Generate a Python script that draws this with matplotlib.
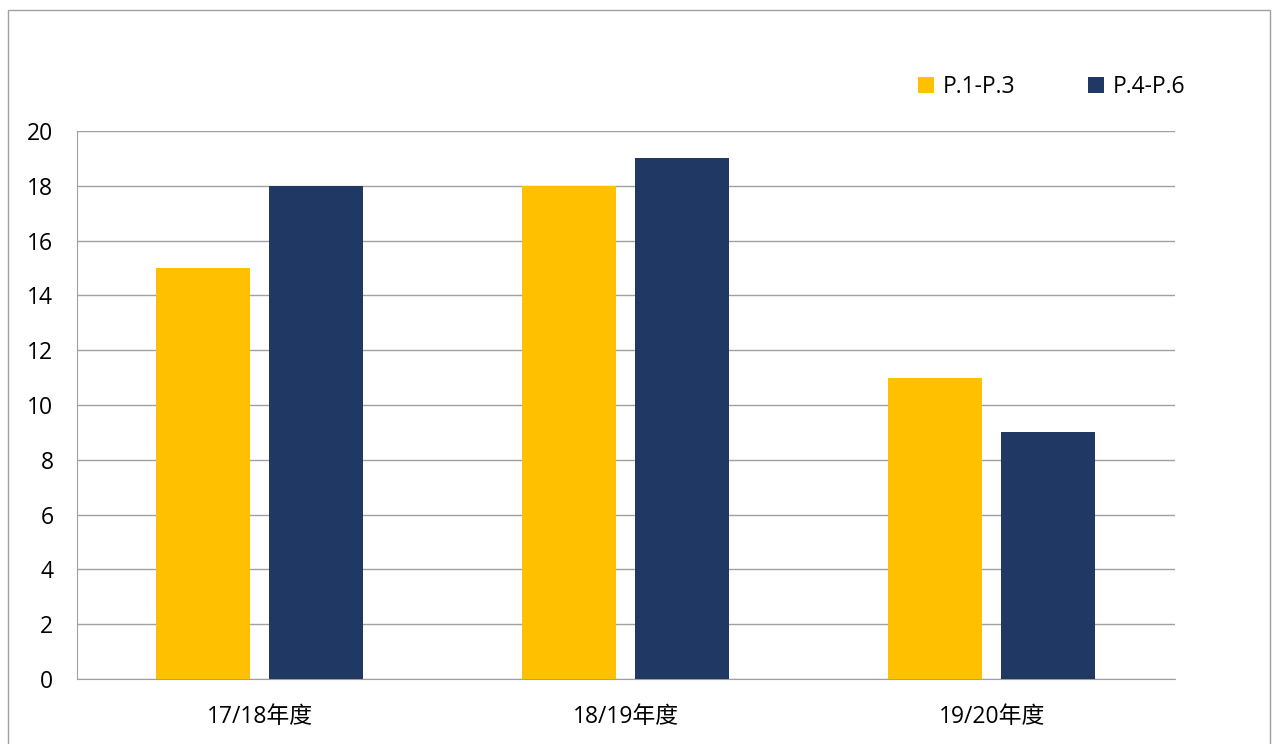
import matplotlib.pyplot as plt
import matplotlib.patches as mpatches
import numpy as np

categories = ['17/18年度', '18/19年度', '19/20年度']
p1_p3 = [15, 18, 11]
p4_p6 = [18, 19, 9]
series_names = ['P.1-P.3', 'P.4-P.6']

plt.rcParams['font.family'] = ['Open Sans', 'Noto Sans CJK SC', 'DejaVu Sans']

fig = plt.figure(figsize=(12.77, 7.44), dpi=100)
ax = fig.add_axes([0.0603, 0.0874, 0.8595, 0.7366])

x = np.arange(len(categories))
w = 0.257
gap = 0.052
ax.bar(x - (w + gap) / 2, p1_p3, w, color='#FFC000', label=series_names[0], zorder=3)
ax.bar(x + (w + gap) / 2, p4_p6, w, color='#203864', label=series_names[1], zorder=3)

ax.set_xlim(-0.5, 2.5)
ax.set_ylim(0, 20)
ax.set_yticks(np.arange(0, 21, 2))
ax.set_xticks(x)
ax.set_xticklabels(categories)
ax.grid(axis='y', color='#a0a0a0', linewidth=1, zorder=0)
for s in ['top', 'right']:
    ax.spines[s].set_visible(False)
for s in ['left', 'bottom']:
    ax.spines[s].set_color('#a0a0a0')
ax.tick_params(axis='both', length=0, labelsize=16.5, colors='black')
ax.tick_params(axis='y', pad=17)
ax.tick_params(axis='x', pad=19)

ax.legend(loc='upper right', bbox_to_anchor=(1.029, 1.14), ncol=2, frameon=False,
          fontsize=16.5, handlelength=0.7, handleheight=0.7, columnspacing=3.15, handletextpad=0.4)

fig.patches.append(mpatches.Rectangle((8 / 1277, -0.01), 1262 / 1277, 1 - 10 / 744 + 0.01,
                                      transform=fig.transFigure, fill=False,
                                      edgecolor='#a0a0a0', linewidth=1))

fig.savefig('out.png', dpi=100)
